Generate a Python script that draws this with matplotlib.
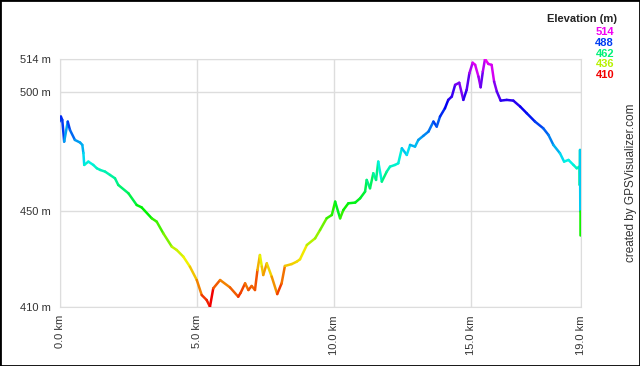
import numpy as np
import matplotlib
matplotlib.use("Agg")
import matplotlib.pyplot as plt
from matplotlib.collections import LineCollection
from matplotlib.colors import hsv_to_rgb

# distance (km) and elevation (m)
dist_km = [0.00, 0.05, 0.10, 0.17, 0.30, 0.38, 0.56, 0.75, 0.83, 0.87, 0.90, 1.05,
           1.23, 1.36, 1.48, 1.66, 1.84, 2.02, 2.14, 2.51, 2.81, 2.99, 3.36, 3.54,
           3.78, 4.09, 4.27, 4.51, 4.75, 5.00, 5.18, 5.36, 5.48, 5.60, 5.85, 6.21,
           6.51, 6.60, 6.76, 6.88, 7.00, 7.12, 7.21, 7.30, 7.37, 7.42, 7.55, 7.73,
           7.93, 8.09, 8.21, 8.46, 8.64, 8.76, 9.01, 9.31, 9.49, 9.73, 9.92, 10.04,
           10.22, 10.34, 10.52, 10.77, 10.95, 11.13, 11.19, 11.31, 11.43, 11.53,
           11.61, 11.74, 11.92, 12.04, 12.22, 12.34, 12.47, 12.65, 12.77, 12.95,
           13.07, 13.25, 13.44, 13.62, 13.74, 13.86, 14.04, 14.16, 14.29, 14.41,
           14.56, 14.71, 14.83, 14.93, 15.05, 15.14, 15.26, 15.34, 15.42, 15.50,
           15.62, 15.74, 15.83, 15.93, 16.07, 16.29, 16.53, 16.78, 17.02, 17.32,
           17.62, 17.81, 17.99, 18.23, 18.38, 18.54, 18.72, 18.84, 18.94, 18.95,
           18.96, 18.97, 18.97]
elev_m = [487.7, 489.8, 488.4, 479.3, 487.7, 484.2, 480.0, 478.9, 477.9, 474.5, 469.5, 470.9,
          469.5, 468.1, 467.4, 466.7, 465.3, 463.9, 461.1, 457.6, 452.7, 451.7, 447.1, 445.7,
          440.8, 435.2, 433.8, 431.0, 426.8, 421.2, 414.9, 412.8, 410.0, 417.7, 421.2, 418.1,
          414.2, 415.9, 419.8, 417.0, 418.7, 417.0, 425.4, 431.7, 426.8, 423.3, 428.2, 422.6,
          415.3, 419.8, 427.1, 427.9, 428.9, 429.9, 435.9, 438.7, 442.2, 447.1, 448.5, 454.1,
          447.1, 450.6, 453.4, 453.7, 455.5, 458.3, 463.2, 459.7, 466.0, 463.2,
          470.9, 462.5, 466.7, 468.8, 469.5, 470.2, 476.5, 473.7, 477.9, 477.2,
          480.0, 481.7, 483.5, 487.7, 485.6, 489.8, 493.3, 496.8, 498.2, 503.1,
          504.0, 496.8, 501.0, 508.0, 512.4, 511.5, 506.6, 502.1, 508.7, 514.0,
          511.9, 511.5, 504.5, 500.3, 496.5, 496.8, 496.5, 494.0, 491.2, 487.7,
          484.9, 482.1, 477.9, 474.4, 470.9, 471.6, 469.5, 468.1, 468.8, 461.1,
          475.8, 450.0, 440.1]

y_ticks = [410, 450, 500, 514]
x_ticks = [0.0, 5.0, 10.0, 15.0, 19.0]
legend_vals = [514, 488, 462, 436, 410]

emin, emax = 410, 514


def elev_color(e):
    h = (e - emin) / (emax - emin) * 300 / 360
    return hsv_to_rgb([h, 1.0, 0.95])


fig = plt.figure(figsize=(6.4, 3.66), dpi=100)
plt.rcParams['font.family'] = ['Liberation Sans', 'DejaVu Sans']
ax = fig.add_axes([0.093, 0.162, 0.815, 0.677])

x = np.array(dist_km)
y = np.array(elev_m)
pts = np.column_stack([x, y]).reshape(-1, 1, 2)
segs = np.concatenate([pts[:-1], pts[1:]], axis=1)
# each segment takes the colour of its starting point
cols = [elev_color(y[i]) for i in range(len(y) - 1)]
lc = LineCollection(segs, colors=cols, linewidths=1.8, capstyle='round', joinstyle='round', zorder=3)
ax.add_collection(lc)

ax.set_xlim(0, 19)
ax.set_ylim(emin, emax)
ax.set_xticks(x_ticks)
ax.set_xticklabels(['%.1f km' % t for t in x_ticks], rotation=90)
ax.set_yticks(y_ticks)
ax.set_yticklabels(['%d m' % t for t in y_ticks])
ax.tick_params(length=0, labelsize=8, labelcolor='#333333', pad=6)
ax.grid(True, color='#dddddd', linewidth=1)
ax.set_axisbelow(True)
for s in ax.spines.values():
    s.set_color('#dddddd')

# legend
fig.text(617 / 640, 1 - 19 / 366, 'Elevation (m)', ha='right', va='center',
         fontsize=8, fontweight='bold', color='#222222')
for i, v in enumerate(legend_vals):
    fig.text(614 / 640, 1 - (32 + 10.8 * i) / 366, str(v), ha='right', va='center',
             fontsize=8, fontweight='bold', color=elev_color(v))

fig.text(631 / 640, 1 - 183 / 366, 'created by GPSVisualizer.com', rotation=90,
         ha='center', va='center', fontsize=8.5, color='#333333')

# black frame around the picture
fig.patches.append(plt.Rectangle((0, 0), 1, 1, transform=fig.transFigure,
                                 fill=False, edgecolor='black', linewidth=2))

fig.savefig('out.png', dpi=100)
